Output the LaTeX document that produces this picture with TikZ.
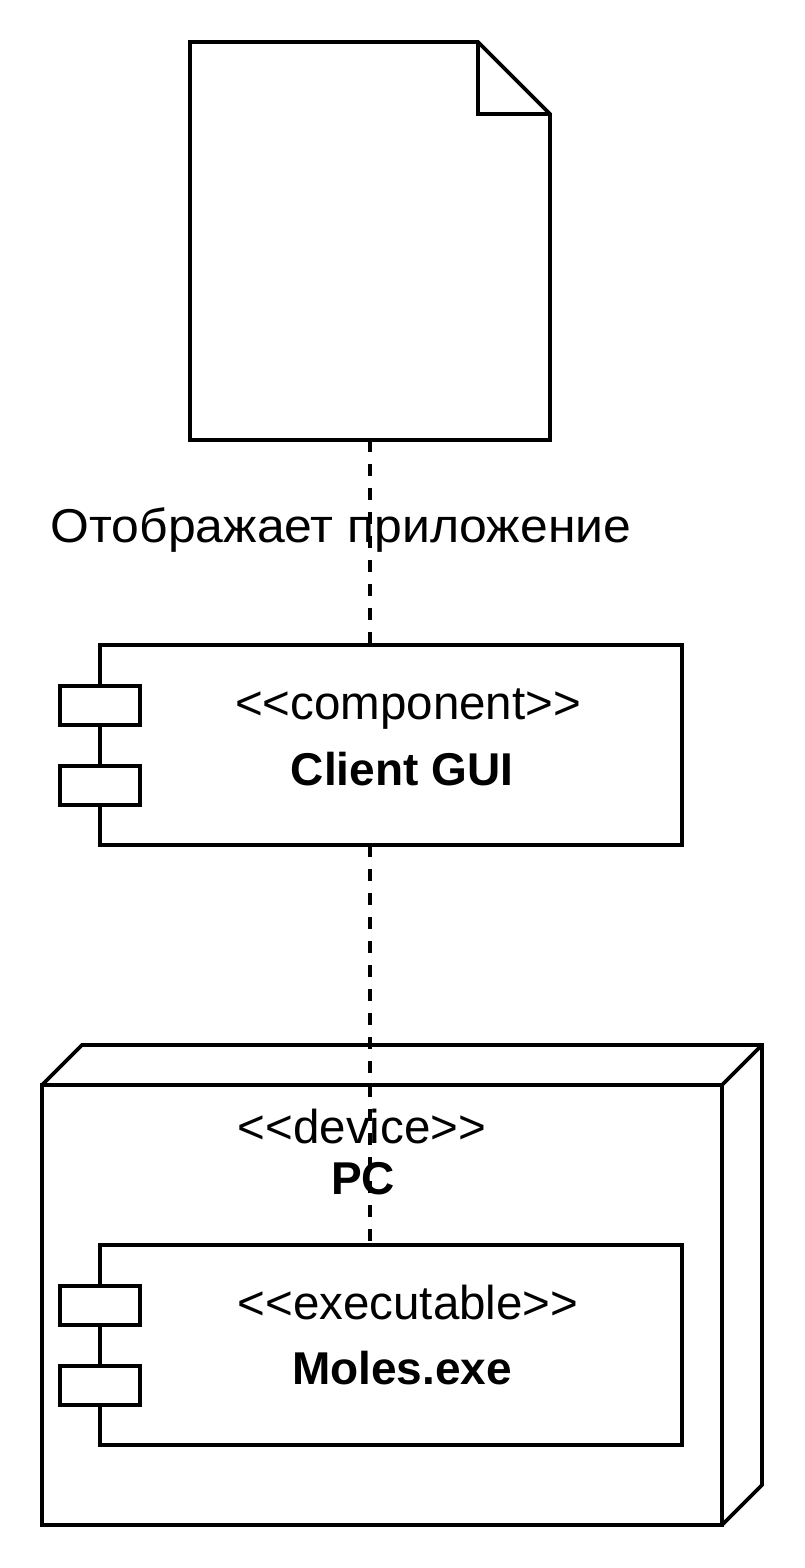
\documentclass[tikz,border=0pt]{standalone}
\usepackage{fontspec}
\setmainfont{Liberation Sans}
\begin{document}
\begin{tikzpicture}[x=1pt,y=-1pt,
  line/.style={line width=3.6pt,black},
  conn/.style={line width=3.6pt,black,dash pattern=on 12pt off 12pt},
  port/.style={line width=3.6pt,fill=white,draw=black},
  txt/.style={anchor=base,inner sep=0pt,font=\fontsize{47.5}{56}\selectfont},
  btxt/.style={anchor=base,inner sep=0pt,font=\fontsize{46}{56}\selectfont\bfseries}]
\useasboundingbox (0,0) rectangle (804,1568);
% document
\draw[line] (190,42) -- (478,42) -- (550,114) -- (550,440) -- (190,440) -- cycle;
\draw[line] (478,42) -- (478,114) -- (550,114);
\coordinate (docb) at (370,440);
% client GUI component
\draw[line] (100,645) rectangle (682,845);
\draw[port] (60,686) rectangle (140,725);
\draw[port] (60,766) rectangle (140,805);
\coordinate (clientt) at (370,645);
\coordinate (clientb) at (370,845);
\node[txt] (cst) at (408,719) {{<}{<}component{>}{>}};
\node[btxt] (cname) at (402,785) {Client GUI};
% node PC
\draw[line] (42,1085) rectangle (722,1525);
\draw[line] (42,1085) -- (82,1045) -- (762,1045) -- (762,1485) -- (722,1525);
\draw[line] (722,1085) -- (762,1045);
\node[txt] (dst) at (362,1143) {{<}{<}device{>}{>}};
\node[btxt] (dname) at (363,1194) {PC};
% Moles.exe
\draw[line] (100,1245) rectangle (682,1445);
\draw[port] (60,1286) rectangle (140,1325);
\draw[port] (60,1366) rectangle (140,1405);
\coordinate (molest) at (370,1245);
\node[txt] (est) at (408,1319) {{<}{<}executable{>}{>}};
\node[btxt] (ename) at (402,1384) {Moles.exe};
% connectors
\draw[conn] (docb) -- (clientt);
\draw[conn] (clientb) -- (molest);
\node[txt] (lbl) at (341,542) {\scalebox{1.05}[1]{Отображает приложение}};
\end{tikzpicture}
\end{document}
